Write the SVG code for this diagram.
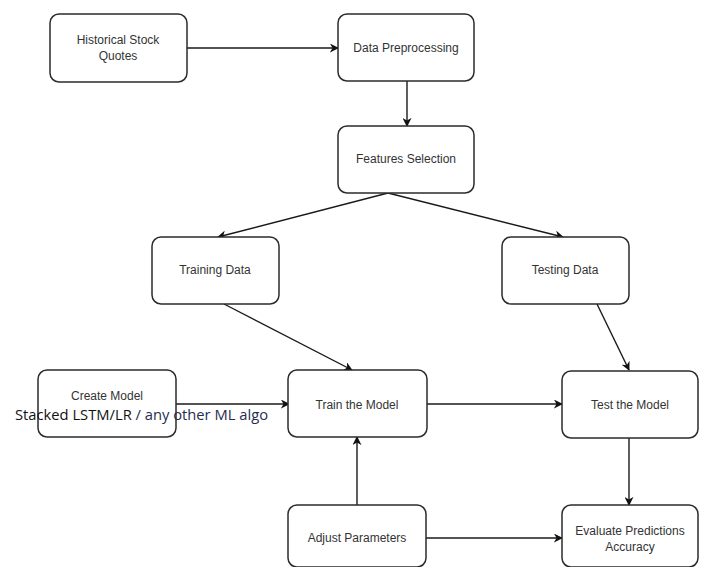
<svg xmlns="http://www.w3.org/2000/svg" width="704" height="567" viewBox="0 0 704 567">
<style>
.box{fill:#ffffff;stroke:#2b2b2b;stroke-width:1.5}
.lbl{font-family:"Liberation Sans",Arial,sans-serif;font-size:12px;fill:#333333;text-anchor:middle}
.edge{fill:none;stroke:#1a1a1a;stroke-width:1.4;marker-end:url(#arr)}
.line{fill:none;stroke:#1a1a1a;stroke-width:1.4}
</style>
<defs>
<marker id="arr" viewBox="0 0 10 10" refX="9" refY="5" markerWidth="9" markerHeight="9" markerUnits="userSpaceOnUse" orient="auto">
<path d="M0,0 L10,5 L0,10 L3,5 z" fill="#111"/>
</marker>
</defs>
<rect width="704" height="567" fill="#ffffff"/>
<g id="connectors">
<path class="edge" d="M187,48 L338,48"/>
<path class="edge" d="M407,81 L407,126"/>
<path class="edge" d="M388,193 L218,237"/>
<path class="edge" d="M388,193 L563,237"/>
<path class="edge" d="M224,304 L352,370"/>
<path class="edge" d="M597,304 L629,370"/>
<path class="edge" d="M176,404 L289,404"/>
<path class="edge" d="M427,404 L562,404"/>
<path class="edge" d="M629,438 L629,505"/>
<path class="edge" d="M357,505 L357,437"/>
<path class="edge" d="M426,538 L562,538"/>
</g>
<g id="historical">
<rect class="box" x="50" y="14" width="137" height="68" rx="9"/>
<text class="lbl" x="118" y="44">Historical Stock</text>
<text class="lbl" x="118" y="60">Quotes</text>
</g>
<g id="preprocessing">
<rect class="box" x="338" y="14" width="136" height="67" rx="9"/>
<text class="lbl" x="406" y="52">Data Preprocessing</text>
</g>
<g id="features">
<rect class="box" x="338" y="126" width="136" height="67" rx="9"/>
<text class="lbl" x="406" y="163">Features Selection</text>
</g>
<g id="training">
<rect class="box" x="152" y="237" width="127" height="67" rx="9"/>
<text class="lbl" x="215" y="274">Training Data</text>
</g>
<g id="testing">
<rect class="box" x="502" y="237" width="127" height="67" rx="9"/>
<text class="lbl" x="565" y="274">Testing Data</text>
</g>
<g id="create">
<rect class="box" x="38" y="370" width="138" height="67" rx="9"/>
<text class="lbl" x="107" y="400">Create Model</text>
</g>
<g id="train">
<rect class="box" x="288" y="370" width="139" height="67" rx="9"/>
<text class="lbl" x="357" y="409">Train the Model</text>
</g>
<g id="test">
<rect class="box" x="562" y="371" width="136" height="67" rx="9"/>
<text class="lbl" x="630" y="409">Test the Model</text>
</g>
<g id="adjust">
<rect class="box" x="288" y="505" width="138" height="62" rx="9"/>
<text class="lbl" x="357" y="542">Adjust Parameters</text>
</g>
<g id="evaluate">
<rect class="box" x="562" y="505" width="136" height="62" rx="9"/>
<text class="lbl" x="630" y="535">Evaluate Predictions</text>
<text class="lbl" x="630" y="551">Accuracy</text>
</g>
<text x="15" y="420" font-family="'Open Sans','Liberation Sans',sans-serif" font-size="15" fill="#111" textLength="253" lengthAdjust="spacingAndGlyphs">Stacked LSTM/LR <tspan fill="#1f2d50">/ any other ML algo</tspan></text>
</svg>
